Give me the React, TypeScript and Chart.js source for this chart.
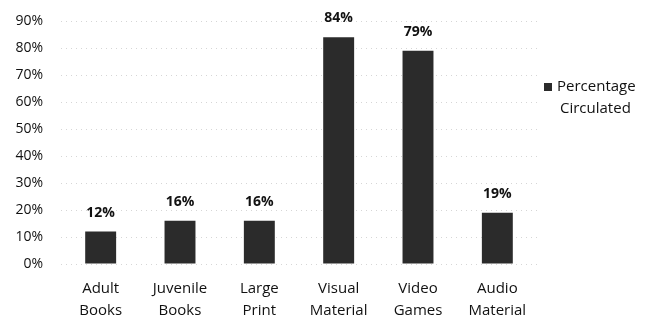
import React, { useEffect, useRef } from "react";
import { Chart, registerables } from "chart.js";

Chart.register(...registerables);

const categories: string[][] = [
  ["Adult", "Books"],
  ["Juvenile", "Books"],
  ["Large", "Print"],
  ["Visual", "Material"],
  ["Video", "Games"],
  ["Audio", "Material"],
];
const percentCirculated: number[] = [12, 16, 16, 84, 79, 19];
const seriesName = ["Percentage", "Circulated"];
const yTicks: number[] = [0, 10, 20, 30, 40, 50, 60, 70, 80, 90];

const FONT = "'Open Sans', 'Liberation Sans', sans-serif";
const BAR_COLOR = "#2b2b2b";

const valueLabels = {
  id: "valueLabels",
  afterDatasetsDraw(chart: any) {
    const ctx = chart.ctx;
    const meta = chart.getDatasetMeta(0);
    ctx.save();
    ctx.font = `bold 14px ${FONT}`;
    ctx.fillStyle = "#111";
    ctx.textAlign = "center";
    ctx.textBaseline = "middle";
    meta.data.forEach((bar: any, i: number) => {
      ctx.fillText(`${percentCirculated[i]}%`, bar.x, bar.y - 19);
    });
    ctx.restore();
  },
};

const sideLegend = {
  id: "sideLegend",
  afterDraw(chart: any) {
    const ctx = chart.ctx;
    ctx.save();
    ctx.fillStyle = BAR_COLOR;
    ctx.fillRect(544, 83, 8, 8);
    ctx.fillStyle = "#111";
    ctx.font = `15px ${FONT}`;
    ctx.textAlign = "left";
    ctx.textBaseline = "middle";
    ctx.fillText(seriesName[0], 557, 87);
    ctx.fillText(seriesName[1], 560, 109);
    ctx.restore();
  },
};

export default function App() {
  const ref = useRef<HTMLCanvasElement | null>(null);
  useEffect(() => {
    if (!ref.current) return;
    const chart = new Chart(ref.current, {
      type: "bar",
      data: {
        labels: categories,
        datasets: [
          {
            label: seriesName.join(" "),
            data: percentCirculated,
            backgroundColor: BAR_COLOR,
            categoryPercentage: 1,
            barPercentage: 0.39,
          },
        ],
      },
      options: {
        animation: false,
        responsive: false,
        maintainAspectRatio: false,
        layout: { autoPadding: false, padding: { top: 21, right: 110, left: 0, bottom: 0 } },
        plugins: { legend: { display: false }, tooltip: { enabled: false } },
        scales: {
          x: {
            grid: { display: false, drawTicks: false },
            border: { display: false },
            ticks: {
              color: "#111",
              font: { family: FONT, size: 15, lineHeight: 1.45 },
              padding: 14,
              maxRotation: 0,
            },
            afterFit(scale: any) {
              scale.height = 54;
            },
          },
          y: {
            min: 0,
            max: 90,
            afterBuildTicks(scale: any) {
              scale.ticks = yTicks.map((v) => ({ value: v }));
            },
            grid: {
              color: "#d6d6d6",
              drawTicks: true,
              tickLength: 14,
              tickColor: "rgba(0,0,0,0)",
              lineWidth: 1,
            },
            border: { display: false, dash: [1, 4] },
            ticks: {
              color: "#111",
              font: { family: FONT, size: 14 },
              padding: 4,
              callback: (v: any) => `${v}%`,
            },
            afterFit(scale: any) {
              scale.width = 61;
            },
          },
        },
      },
      plugins: [valueLabels, sideLegend],
    });
    return () => chart.destroy();
  }, []);
  return (
    <div style={{ position: "absolute", left: 0, top: 0, width: 647, height: 318, background: "#fff" }}>
      <canvas ref={ref} width={647} height={318} style={{ width: 647, height: 318 }} />
    </div>
  );
}
